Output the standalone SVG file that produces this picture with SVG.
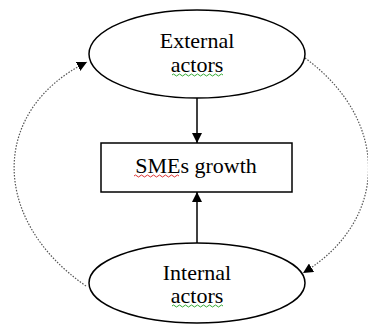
<svg xmlns="http://www.w3.org/2000/svg" width="368" height="324" viewBox="0 0 368 324">
<style>
.shape{fill:#fff;stroke:#000;stroke-width:1.5}
.lbl{font-family:"Liberation Serif","Times New Roman",serif;font-size:22px;fill:#000;text-anchor:middle}
.solid{stroke:#000;stroke-width:1.5;fill:none}
.dot{stroke:#555;stroke-width:1.2;fill:none;stroke-dasharray:1.5 1.5}
.sq{fill:none;stroke-width:1}
</style>
<defs>
<marker id="ah" viewBox="0 0 10 10" refX="10" refY="5" markerWidth="10" markerHeight="10" markerUnits="userSpaceOnUse" orient="auto">
<path d="M0,0 L10,5 L0,10 z" fill="#000"/>
</marker>
</defs>
<rect width="368" height="324" fill="#fff"/>
<g id="connectors">
<line class="solid" x1="197" y1="98" x2="197" y2="143" marker-end="url(#ah)"/>
<line class="solid" x1="197" y1="243" x2="197" y2="192" marker-end="url(#ah)"/>
<path class="dot" d="M86,286 C-10,220 -10,110 87,62" marker-end="url(#ah)"/>
<path class="dot" d="M305,58 C390,120 390,220 303,273" marker-end="url(#ah)"/>
</g>
<g id="external">
<ellipse class="shape" cx="197" cy="54" rx="108" ry="44"/>
<text class="lbl" x="197" y="48">External</text>
<text class="lbl" x="197" y="72">actors</text>
<path class="sq" stroke="#3a3" d="M172,75 q1.5,-2 3,0 t3,0 t3,0 t3,0 t3,0 t3,0 t3,0 t3,0 t3,0 t3,0 t3,0 t3,0 t3,0 t3,0 t3,0 t3,0 t3,0"/>
</g>
<g id="smes">
<rect class="shape" x="101" y="143" width="191" height="49"/>
<text class="lbl" x="196" y="173">SMEs growth</text>
<path class="sq" stroke="#d33" d="M134,176 q1.5,-2 3,0 t3,0 t3,0 t3,0 t3,0 t3,0 t3,0 t3,0 t3,0 t3,0 t3,0 t3,0 t3,0 t3,0 t3,0"/>
</g>
<g id="internal">
<ellipse class="shape" cx="197" cy="283" rx="108" ry="40"/>
<text class="lbl" x="197" y="280">Internal</text>
<text class="lbl" x="197" y="303">actors</text>
<path class="sq" stroke="#3a3" d="M172,306 q1.5,-2 3,0 t3,0 t3,0 t3,0 t3,0 t3,0 t3,0 t3,0 t3,0 t3,0 t3,0 t3,0 t3,0 t3,0 t3,0 t3,0 t3,0"/>
</g>
</svg>
